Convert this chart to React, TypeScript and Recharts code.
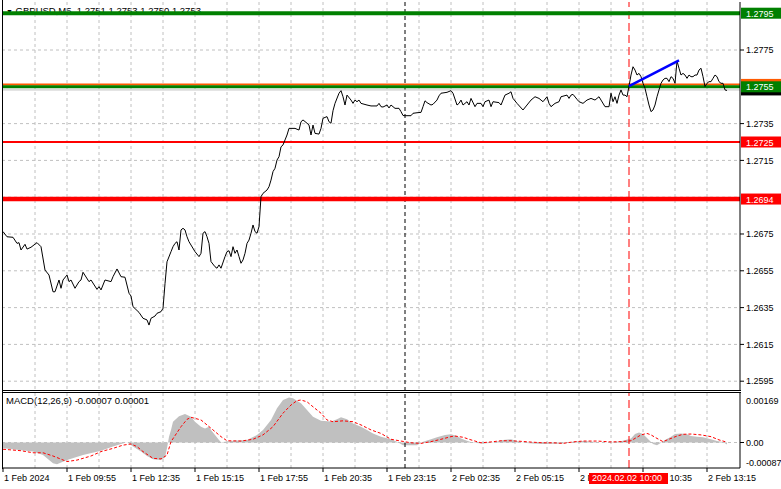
import React from "react"
import {
  ComposedChart,
  Line,
  Area,
  XAxis,
  YAxis,
  CartesianGrid,
  ReferenceLine,
} from "recharts"

const FONT = '"Liberation Sans", Arial, sans-serif'

// M5 bars, index 0 = first bar on screen
const priceBars = [
  0, 2, 5, 7, 8, 9, 11, 12, 14, 17,
  19, 21, 23, 25, 26, 28, 29, 30, 32, 33,
  34, 36, 38, 39, 40, 43, 44, 47, 48, 49,
  51, 54, 55, 57, 59, 61, 63, 64, 65, 68,
  70, 72, 73, 74, 76, 77, 79, 80, 81, 82,
  84, 85, 86, 87, 88, 89, 90, 91, 92, 93,
  94, 96, 98, 99, 100, 101, 102, 103, 104, 106,
  107, 108, 109, 111, 112, 113, 114, 115, 116, 117,
  118, 119, 120, 121, 122, 123, 124, 125, 126, 127,
  128, 129, 130, 131, 132, 133, 134, 135, 136, 137,
  138, 139, 140, 141, 142, 143, 144, 146, 148, 149,
  150, 152, 153, 154, 155, 156, 158, 159, 160, 162,
  163, 164, 165, 166, 168, 169, 170, 171, 172, 174,
  175, 176, 177, 178, 179, 180, 182, 184, 187, 188,
  189, 190, 192, 193, 194, 196, 198, 199, 200, 201,
  204, 205, 207, 209, 210, 211, 212, 214, 215, 217,
  218, 219, 222, 224, 225, 227, 228, 229, 230, 232,
  233, 234, 236, 237, 239, 240, 241, 243, 244, 245,
  248, 249, 251, 253, 254, 255, 257, 260, 262, 264,
  266, 268, 270, 272, 273, 274, 276, 278, 279, 282,
  283, 284, 285, 287, 288, 290, 292, 294, 296, 298,
  299, 301, 303, 304, 305, 306, 307, 308, 309, 310,
  311, 312, 313, 314, 315, 316, 317, 318, 319, 320,
  321, 322, 323, 324, 325, 326, 327, 328, 329, 330,
  331, 332, 333, 334, 335, 336, 337, 338, 339, 340,
  341, 342, 343, 344, 345, 346, 347, 348, 349, 350,
  351, 352, 353, 354, 355, 356, 357, 358, 359, 360,
  361, 362,
]

const priceCloses = [
  1.26763, 1.26735, 1.26732, 1.26699, 1.26703, 1.26663, 1.26694, 1.26668, 1.26678, 1.26703,
  1.26681, 1.26554, 1.26527, 1.26436, 1.26436, 1.265, 1.26455, 1.265, 1.26527, 1.26491,
  1.265, 1.26455, 1.26491, 1.265, 1.26542, 1.26491, 1.265, 1.26449, 1.26464, 1.26446,
  1.265, 1.26491, 1.26518, 1.2656, 1.26518, 1.26515, 1.26428, 1.26413, 1.26355, 1.26324,
  1.26292, 1.26283, 1.26255, 1.26292, 1.26304, 1.26319, 1.26328, 1.26346, 1.2648, 1.26599,
  1.26654, 1.26681, 1.26699, 1.26708, 1.26663, 1.26772, 1.26781, 1.26772, 1.26735, 1.26708,
  1.2669, 1.26654, 1.26627, 1.26645, 1.26754, 1.26763, 1.26735, 1.26699, 1.266, 1.26572,
  1.26564, 1.26582, 1.26564, 1.26627, 1.26654, 1.26659, 1.26627, 1.26681, 1.26645, 1.26663,
  1.26627, 1.26591, 1.26609, 1.26645, 1.26699, 1.26717, 1.26754, 1.26799, 1.26763, 1.26754,
  1.2679, 1.26953, 1.26971, 1.2698, 1.26989, 1.27007, 1.27043, 1.27089, 1.27107, 1.27152,
  1.2717, 1.27224, 1.27234, 1.27261, 1.27288, 1.27324, 1.27324, 1.27324, 1.27315, 1.2736,
  1.2737, 1.27352, 1.27342, 1.27288, 1.27342, 1.27297, 1.27293, 1.27324, 1.27379, 1.27388,
  1.2736, 1.27352, 1.2742, 1.2746, 1.27515, 1.27529, 1.27496, 1.27451, 1.27505, 1.27478,
  1.2746, 1.27478, 1.27469, 1.27478, 1.2746, 1.27457, 1.27451, 1.27446, 1.27446, 1.2746,
  1.27442, 1.2744, 1.27451, 1.27435, 1.27451, 1.27433, 1.27433, 1.27415, 1.27394, 1.27393,
  1.27393, 1.27406, 1.27409, 1.27411, 1.27442, 1.27474, 1.27464, 1.27451, 1.27455, 1.27478,
  1.27501, 1.27515, 1.2752, 1.27529, 1.27515, 1.27451, 1.2746, 1.27478, 1.27451, 1.27469,
  1.27451, 1.27487, 1.27442, 1.2746, 1.2746, 1.27442, 1.27469, 1.27478, 1.27442, 1.27469,
  1.27464, 1.27451, 1.27505, 1.27515, 1.27523, 1.27487, 1.2746, 1.27424, 1.27451, 1.27478,
  1.27496, 1.27487, 1.27469, 1.27496, 1.2746, 1.27442, 1.2746, 1.27469, 1.27496, 1.27505,
  1.27487, 1.27505, 1.27509, 1.27482, 1.27469, 1.2746, 1.27478, 1.27487, 1.27478, 1.27496,
  1.27478, 1.27442, 1.27442, 1.27515, 1.27469, 1.27496, 1.2746, 1.27505, 1.27533, 1.27505,
  1.27505, 1.27496, 1.27554, 1.27614, 1.27659, 1.27641, 1.27614, 1.27623, 1.27605, 1.27569,
  1.27542, 1.27496, 1.27451, 1.27415, 1.27424, 1.27451, 1.27496, 1.27533, 1.27569, 1.27587,
  1.27596, 1.27596, 1.27578, 1.27605, 1.27596, 1.27569, 1.2769, 1.27651, 1.27614, 1.27623,
  1.27614, 1.27596, 1.27614, 1.27605, 1.27605, 1.27614, 1.27614, 1.27641, 1.27651, 1.27605,
  1.27551, 1.27569, 1.27578, 1.27578, 1.27596, 1.27614, 1.27605, 1.27578, 1.27569, 1.27569,
  1.27533, 1.2753,
]

// MACD(12,26,9) main (histogram) and signal
const histBars = [
  0, 15, 20, 25, 27, 32, 40, 49, 55, 59,
  62, 65, 69, 72, 75, 79, 81, 82, 83, 84,
  85, 88, 91, 94, 96, 99, 101, 103, 104, 106,
  108, 109, 115, 122, 127, 130, 134, 137, 140, 143,
  145, 149, 152, 155, 159, 164, 167, 169, 172, 175,
  179, 182, 185, 189, 194, 197, 200, 207, 210, 214,
  217, 221, 224, 227, 229, 232, 235, 240, 245, 250,
  254, 257, 260, 265, 270, 275, 280, 285, 290, 295,
  300, 304, 307, 310, 314, 316, 318, 320, 323, 325,
  327, 329, 331, 334, 336, 339, 342, 344, 347, 350,
  354, 357, 360, 362,
]

const histValues = [
  -0.0002, -0.00031, -0.00043, -0.00071, -0.00074, -0.0006, -0.00043, -0.00028, -0.00014, -0.00005,
  0.00001, -0.00014, -0.00031, -0.00046, -0.00057, -0.0006, -0.0005, -0.0002, 0.0002, 0.00043,
  0.00071, 0.0009, 0.00097, 0.00088, 0.00071, 0.00054, 0.00048, 0.00054, 0.00043, 0.00026,
  0.00009, 0.00001, 0.00006, 0.00009, 0.00026, 0.00043, 0.00077, 0.00117, 0.00145, 0.00154,
  0.00151, 0.00134, 0.00111, 0.00088, 0.00074, 0.00072, 0.00079, 0.00086, 0.00079, 0.00065,
  0.00054, 0.00043, 0.00031, 0.0002, 0.00011, 0.00003, -0.00009, -0.00009, 0.00003, 0.00011,
  0.00018, 0.00026, 0.00028, 0.00022, 0.00014, 0.00006, -0.00001, -0.00003, -0.00001, 0.00009,
  0.00011, 0.00005, -0.00001, -0.00003, -0.00005, -0.00004, -0.00003, 0.00003, 0.00005, 0.00003,
  -0.00001, 0.00001, 0.00003, 0.00006, 0.00014, 0.00029, 0.00034, 0.00029, 0.00009, -0.00005,
  -0.00009, -0.00001, 0.00009, 0.0002, 0.00029, 0.00031, 0.00028, 0.00022, 0.0002, 0.00018,
  0.00011, 0.00005, 0.00002, -0.00007,
]

const signalBars = [
  0, 9, 15, 20, 25, 32, 37, 44, 49, 55,
  60, 64, 67, 70, 75, 79, 82, 84, 89, 92,
  94, 99, 102, 105, 109, 112, 119, 125, 130, 135,
  140, 144, 147, 149, 152, 155, 159, 162, 165, 170,
  175, 179, 184, 189, 194, 199, 204, 209, 214, 219,
  224, 226, 230, 234, 239, 244, 249, 254, 259, 265,
  270, 275, 280, 285, 290, 297, 304, 309, 314, 316,
  319, 322, 324, 327, 330, 334, 337, 340, 344, 349,
  354, 358, 362,
]

const signalValues = [
  -0.00023, -0.00028, -0.00035, -0.00035, -0.00046, -0.00065, -0.0006, -0.00046, -0.00031, -0.0002,
  -0.00009, -0.00005, -0.00014, -0.00031, -0.00054, -0.00056, -0.00043, 0.00003, 0.00054, 0.00079,
  0.00086, 0.00077, 0.0006, 0.00043, 0.0002, 0.00006, 0.00005, 0.00011, 0.00026, 0.00054,
  0.001, 0.00128, 0.00143, 0.00145, 0.00139, 0.00122, 0.001, 0.00077, 0.00071, 0.00074,
  0.00071, 0.0006, 0.00043, 0.00031, 0.00011, 0.00005, -0.00001, -0.00003, 0.00003, 0.00011,
  0.0002, 0.00022, 0.00018, 0.00009, -0.00001, 0.00002, 0.00006, 0.00006, 0.00004, 0.00001,
  -0.00001, -0.00001, -0.00003, 0.00002, 0.00005, 0.00005, 0.00002, 0.00003, 0.00006, 0.00014,
  0.00026, 0.00031, 0.00026, 0.00014, 0.00003, 0.00014, 0.00022, 0.00028, 0.00029, 0.00026,
  0.0002, 0.00009, 0.00001,
]

const timeTickBars = [0, 32, 64, 96, 128, 160, 192, 224, 256, 288, 320, 352]
const timeTickLabels = [
  "1 Feb 2024", "1 Feb 09:55", "1 Feb 12:35", "1 Feb 15:15", "1 Feb 17:55", "1 Feb 20:35",
  "1 Feb 23:15", "2 Feb 02:35", "2 Feb 05:15", "2 Feb 07:55", "2 Feb 10:35", "2 Feb 13:15",
]
const gridBars = [
  16, 32, 48, 64, 80, 96, 112, 128, 144, 160, 176,
  192, 208, 224, 240, 256, 272, 288, 304, 320, 336, 352,
]

const priceTicks = [1.2595, 1.2615, 1.2635, 1.2655, 1.2675, 1.2715, 1.2735, 1.2775]
const priceGrid = [1.2595, 1.2615, 1.2635, 1.2655, 1.2675, 1.2695, 1.2715, 1.2735, 1.2755, 1.2775, 1.2795]
const macdTicks = [-0.00087, 0, 0.00169]

const X_DOMAIN = [-0.5, 368.5]
const PRICE_DOMAIN = [1.258967, 1.280109]
const MACD_DOMAIN = [-0.00087, 0.00169]

const priceData = priceBars.map((bar, i) => ({ bar, close: priceCloses[i] }))
const histData = histBars.map((bar, i) => ({ bar, hist: histValues[i] }))
const signalData = signalBars.map((bar, i) => ({ bar, signal: signalValues[i] }))

// price tag drawn on the right scale, like the terminal does
const priceTag = (text: string, bg: string) => (props: any) => {
  const { viewBox } = props
  const x = viewBox.x + viewBox.width + 1
  const y = viewBox.y
  return (
    <g>
      <rect x={x} y={y - 5.5} width={40} height={11} fill={bg} />
      {text && (
        <text x={x + 5} y={y + 3.5} fill="#fff" fontSize={9} fontFamily={FONT}>
          {text}
        </text>
      )}
    </g>
  )
}

const TimeTick = (props: any) => {
  const { x, y, payload } = props
  const label = timeTickLabels[timeTickBars.indexOf(payload.value)]
  return (
    <g>
      <line x1={x} y1={y} x2={x} y2={y + 4} stroke="#000" />
      <text x={x + 1} y={y + 13} fontSize={9} fill="#000" fontFamily={FONT} textAnchor="start">
        {label}
      </text>
    </g>
  )
}

const MacdTick = (props: any) => {
  const { x, y, payload } = props
  const v = payload.value
  const shift = v > 0 ? 7 : v < 0 ? -6 : 0
  const text = v === 0 ? "0.00" : v.toFixed(5)
  return (
    <g>
      {v === 0 && <line x1={x - 6} y1={y} x2={x - 2} y2={y} stroke="#000" />}
      <text x={x} y={y + shift + 3.5} fontSize={9} fill="#000" fontFamily={FONT}>
        {text}
      </text>
    </g>
  )
}

const App = () => {
  return (
    <div
      style={{
        position: "absolute",
        left: 0,
        top: 0,
        width: 781,
        height: 489,
        background: "#fff",
        overflow: "hidden",
        fontFamily: FONT,
      }}
    >
      <div style={{ position: "absolute", left: 6, top: 5, fontSize: 9.5, lineHeight: "11px", whiteSpace: "pre" }}>
        <span style={{ fontSize: 7 }}>▼</span> GBPUSD,M5  1.2751 1.2753 1.2750 1.2753
      </div>
      <div style={{ position: "absolute", left: 6, top: 395, fontSize: 9.5, lineHeight: "11px", whiteSpace: "pre" }}>
        MACD(12,26,9) -0.00007 0.00001
      </div>

      <div style={{ position: "absolute", left: 0, top: 0 }}>
        <ComposedChart width={781} height={392} data={priceData} margin={{ top: 2, right: 0, bottom: 1, left: 2 }}>
          <CartesianGrid stroke="#c0c0c0" strokeDasharray="3 3" horizontalValues={priceGrid} verticalValues={gridBars} />
          <XAxis type="number" dataKey="bar" domain={X_DOMAIN} hide allowDataOverflow />
          <YAxis
            orientation="right"
            width={41}
            domain={PRICE_DOMAIN}
            ticks={priceTicks}
            interval={0}
            allowDataOverflow
            tickSize={4}
            tickMargin={2}
            axisLine={{ stroke: "#000" }}
            tickLine={{ stroke: "#000" }}
            tick={{ fontSize: 9, fill: "#000", fontFamily: FONT }}
            tickFormatter={(v: number) => v.toFixed(4)}
          />
          <ReferenceLine x={201} stroke="#000" strokeDasharray="4 3" />
          <ReferenceLine x={313} stroke="#ff0000" strokeDasharray="8 4" />
          <ReferenceLine y={1.2795} stroke="#008000" strokeWidth={4} label={priceTag("1.2795", "#008000")} />
          <ReferenceLine y={1.2725} stroke="#ff0000" strokeWidth={2} label={priceTag("1.2725", "#ff0000")} />
          <ReferenceLine y={1.2694} stroke="#ff0000" strokeWidth={4.5} label={priceTag("1.2694", "#ff0000")} />
          <ReferenceLine y={1.27563} stroke="#ff5a00" strokeWidth={2} label={priceTag("", "#ff5a00")} />
          <ReferenceLine y={1.27533} stroke="#c0c0c0" strokeWidth={1} label={priceTag("", "#000")} />
          <ReferenceLine y={1.2755} stroke="#008000" strokeWidth={3} label={priceTag("1.2755", "#008000")} />
          <Line dataKey="close" type="linear" stroke="#000" strokeWidth={1} dot={false} isAnimationActive={false} />
          <ReferenceLine
            segment={[
              { x: 313, y: 1.27554 },
              { x: 338, y: 1.27694 },
            ]}
            stroke="#0000ff"
            strokeWidth={2.5}
          />
        </ComposedChart>
      </div>

      <div style={{ position: "absolute", left: 0, top: 392 }}>
        <ComposedChart width={781} height={96} margin={{ top: 1, right: 0, bottom: 0, left: 2 }}>
          <CartesianGrid stroke="#c0c0c0" strokeDasharray="3 3" horizontalValues={[0]} verticalValues={gridBars} />
          <XAxis
            type="number"
            dataKey="bar"
            domain={X_DOMAIN}
            allowDataOverflow
            ticks={timeTickBars}
            interval={0}
            height={20}
            tickSize={0}
            tickMargin={0}
            tickLine={false}
            axisLine={{ stroke: "#000" }}
            tick={TimeTick}
          />
          <YAxis
            orientation="right"
            width={41}
            domain={MACD_DOMAIN}
            ticks={macdTicks}
            interval={0}
            allowDataOverflow
            tickSize={4}
            tickMargin={2}
            tickLine={false}
            axisLine={{ stroke: "#000" }}
            tick={MacdTick}
          />
          <Area
            data={histData}
            dataKey="hist"
            type="linear"
            baseValue={0}
            fill="#c0c0c0"
            fillOpacity={1}
            stroke="none"
            isAnimationActive={false}
          />
          <Line
            data={signalData}
            dataKey="signal"
            type="linear"
            stroke="#ff0000"
            strokeDasharray="3 2"
            dot={false}
            isAnimationActive={false}
          />
          <ReferenceLine x={201} stroke="#000" strokeDasharray="4 3" />
          <ReferenceLine x={313} stroke="#ff0000" strokeDasharray="8 4" />
        </ComposedChart>
      </div>

      {/* crosshair time tag sits over the time scale */}
      <div
        style={{
          position: "absolute",
          left: 589,
          top: 473,
          width: 79,
          height: 11,
          background: "#ff0000",
          color: "#fff",
          fontSize: 9,
          lineHeight: "11px",
          paddingLeft: 3,
          boxSizing: "border-box",
          whiteSpace: "pre",
        }}
      >
        2024.02.02 10:00
      </div>

      {/* window frame */}
      <div style={{ position: "absolute", left: 2, top: 0, width: 1, height: 469, background: "#000" }} />
      <div style={{ position: "absolute", left: 2, top: 390, width: 739, height: 1, background: "#000" }} />
      <div style={{ position: "absolute", left: 2, top: 392, width: 739, height: 1, background: "#000" }} />
    </div>
  )
}

export default App
